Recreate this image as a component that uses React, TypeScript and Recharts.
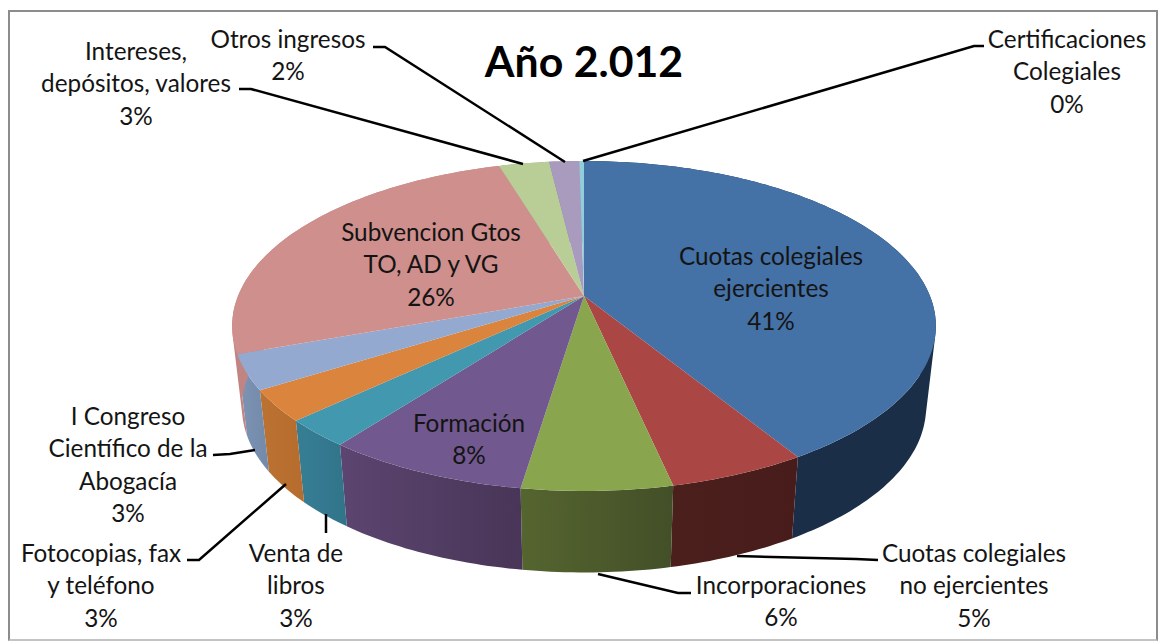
import { Pie, PieChart } from "recharts";

const categories = [
  "Cuotas colegiales ejercientes",
  "Cuotas colegiales no ejercientes",
  "Incorporaciones",
  "Formación",
  "Venta de libros",
  "Fotocopias, fax y teléfono",
  "I Congreso Científico de la Abogacía",
  "Subvencion Gtos TO, AD y VG",
  "Intereses, depósitos, valores",
  "Otros ingresos",
  "Certificaciones Colegiales",
];
// slice shares
const values = [41.25, 5.35, 5.8, 7.9, 2.7, 3.05, 3.4, 25.9, 2.75, 1.65, 0.25];
const topColors = ["#4471A6", "#AA4643", "#89A54E", "#71588F", "#4198AF", "#DB843D", "#93A9CF", "#CF8F8C", "#B9CD96", "#A99BBD", "#92CDDC"];
const wallFrom = ["#1B2E48", "#4A1F1C", "#55652F", "#5C4570", "#377E95", "#BC7231", "#7E94B6", "#C08583", "#9AAB7D", "#8D80A0", "#7AABB8"];
const wallTo = ["#1B2E48", "#481C1A", "#434F28", "#483557", "#31748A", "#B56C2D", "#7289A9", "#C08583", "#9AAB7D", "#8D80A0", "#7AABB8"];
const labelLines = [
  ["Cuotas colegiales", "ejercientes", "41%"],
  ["Cuotas colegiales", "no ejercientes", "5%"],
  ["Incorporaciones", "6%"],
  ["Formación", "8%"],
  ["Venta de", "libros", "3%"],
  ["Fotocopias, fax", "y teléfono", "3%"],
  ["I Congreso", "Científico de la", "Abogacía", "3%"],
  ["Subvencion Gtos", "TO, AD y VG", "26%"],
  ["Intereses,", "depósitos, valores", "3%"],
  ["Otros ingresos", "2%"],
  ["Certificaciones", "Colegiales", "0%"],
];

// label placement: centre x, y of first line
const labelPos = [
  [771, 257], [974, 554], [781, 586], [469, 424], [296, 554], [101, 554],
  [128, 417], [431, 233], [136, 52], [288, 40], [1067, 40],
];
const leaders = [
  "",
  "878,560 856,559 737,556",
  "691,593 678,593 598,574",
  "",
  "326,533 326,514",
  "187,560 199,560 286,484",
  "213,455 230,454 255,450",
  "",
  "239,89 251,89 523,164",
  "373,47 385,47 565,162",
  "984,46 974,46 583,161",
];

const data = categories.map((name, i) => ({ name, value: values[i], fill: topColors[i] }));

const TILT = 0.461;
const PERSP = 0.1818;
const DEPTH = 81.5;
const SHRINK = 0.972;

// tilted disc: maps a pie angle onto the ellipse, the centre sits behind the ellipse middle
function project(cx: number, cy: number, r: number, angle: number) {
  const t = ((90 - angle) * Math.PI) / 180;
  const u = Math.sin(t);
  const v = Math.cos(t);
  const d = 1 + PERSP * v;
  return { x: cx + (r * u) / d, y: cy - (r * TILT * v) / d };
}

function arcPoints(p: any) {
  const pts = [];
  const n = Math.max(2, Math.ceil(Math.abs(p.endAngle - p.startAngle)));
  for (let i = 0; i <= n; i++) {
    const a = p.startAngle + ((p.endAngle - p.startAngle) * i) / n;
    pts.push(project(p.cx, p.cy, p.outerRadius, a));
  }
  return pts;
}

const toPath = (pts: { x: number; y: number }[]) =>
  "M" + pts.map((q) => `${q.x.toFixed(1)},${q.y.toFixed(1)}`).join("L") + "Z";

function TopFace(p: any) {
  const pts = [{ x: p.cx, y: p.cy }, ...arcPoints(p)];
  return <path d={toPath(pts)} fill={p.fill} stroke="none" />;
}

function Wall(p: any) {
  const i = categories.indexOf(p.name ?? p.payload?.name);
  const top = arcPoints(p);
  const bottom = top.map((q) => ({ x: p.cx + (q.x - p.cx) * SHRINK, y: q.y + DEPTH }));
  // sweep the rim down piece by piece so the side silhouette stays straight
  let d = "";
  for (let k = 0; k < top.length - 1; k++) {
    const quad = [top[k], top[k + 1], bottom[k + 1], bottom[k]];
    const area = (quad[1].x - quad[0].x) * (quad[2].y - quad[0].y) - (quad[1].y - quad[0].y) * (quad[2].x - quad[0].x);
    d += toPath(area < 0 ? quad.reverse() : quad);
  }
  const id = `wall-${i}`;
  return (
    <g>
      <defs>
        <linearGradient id={id} x1="0" x2="1" y1="0" y2="0">
          <stop offset="0%" stopColor={wallFrom[i]} />
          <stop offset="100%" stopColor={wallTo[i]} />
        </linearGradient>
      </defs>
      <path d={d} fill={`url(#${id})`} stroke="none" />
    </g>
  );
}

function SliceLabel(p: any) {
  const i = p.index;
  const [x, y] = labelPos[i];
  return (
    <g>
      {leaders[i] && <polyline points={leaders[i]} fill="none" stroke="#000" strokeWidth={2.5} />}
      <text textAnchor="middle" fontFamily="Lato" fontSize={24.3} fill="#141414">
        {labelLines[i].map((line, k) => (
          <tspan key={k} x={x} y={y + 8 + k * 32.4}>
            {line}
          </tspan>
        ))}
      </text>
    </g>
  );
}

export default function App() {
  return (
    <div style={{ position: "absolute", left: 0, top: 0, width: 1159, height: 641, background: "#fff", overflow: "hidden" }}>
      <div
        style={{
          position: "absolute",
          left: 8,
          top: 10,
          width: 1146,
          height: 627,
          borderStyle: "solid",
          borderWidth: 2.5,
          borderColor: "#8C8C8C #8C8C8C #C4C4C4 #8C8C8C",
        }}
      />
      <div style={{ position: "absolute", left: 0, top: 0 }}>
        <PieChart width={1159} height={641} margin={{ top: 0, right: 0, bottom: 0, left: 0 }}>
          <Pie
            data={data}
            dataKey="value"
            cx={584}
            cy={296}
            outerRadius={346}
            startAngle={90}
            endAngle={-270}
            shape={Wall}
            label={false}
            labelLine={false}
            isAnimationActive={false}
          />
          <Pie
            data={data}
            dataKey="value"
            cx={584}
            cy={296}
            outerRadius={346}
            startAngle={90}
            endAngle={-270}
            shape={TopFace}
            label={SliceLabel}
            labelLine={false}
            isAnimationActive={false}
          />
          <text x={584} y={77} textAnchor="middle" fontFamily="Lato" fontWeight={700} fontSize={42.8} fill="#000">
            Año 2.012
          </text>
        </PieChart>
      </div>
    </div>
  );
}
